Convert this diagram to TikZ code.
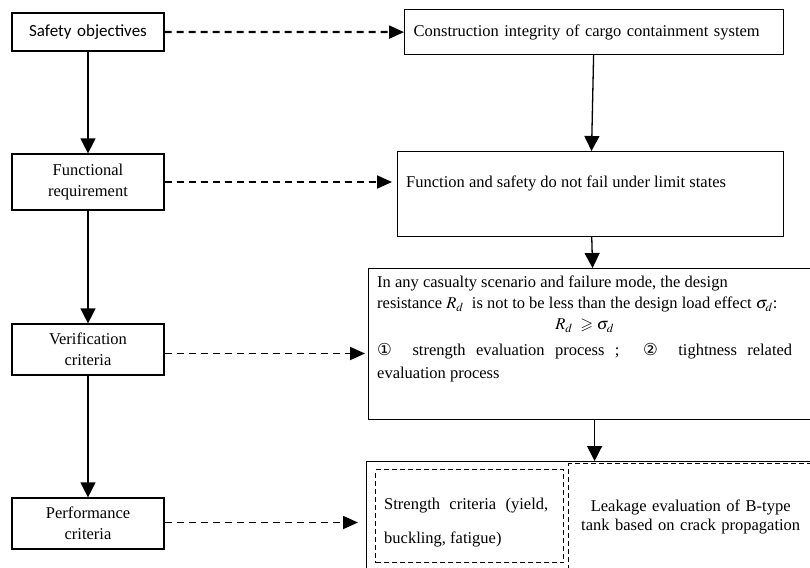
\documentclass[tikz,border=0pt]{standalone}
\usepackage{amssymb}
\usepackage{mathptmx}
\usepackage{fontspec}
\setmainfont{Liberation Serif}
\newfontfamily\timesfont{Liberation Serif}
\newfontfamily\calibri{Carlito}
\newfontfamily\circfont{DejaVu Sans}
\usetikzlibrary{positioning}
\usetikzlibrary{arrows.meta}
\tikzset{
  box/.style={draw=black,line width=1.2pt,rectangle,inner sep=0pt},
  dbox/.style={box,line width=1.4pt,dash pattern=on 5pt off 3pt},
  leftbox/.style={box,minimum width=152pt,text width=140pt,align=center,font=\timesfont\fontsize{16.5}{21}\selectfont},
  flow/.style={line width=1.3pt,-{Triangle[length=15pt,width=15pt]}},
  link/.style={line width=1.8pt,dash pattern=on 7pt off 5pt,-{Triangle[length=15pt,width=13pt]}},
  body/.style={inner sep=0pt,font=\timesfont\fontsize{16.5}{21}\selectfont}
}

\begin{document}
\begin{tikzpicture}[x=1pt,y=-1pt]
  \useasboundingbox (0,0) rectangle (810,567);
  \clip (0,0) rectangle (810,567);
  % left column
  \node[leftbox,minimum height=38pt,font=\calibri\fontsize{17}{20}\selectfont] (so) at (88,32) {Safety objectives};
  \node[leftbox,minimum height=56pt] (fr) at (88,182) {Functional\\requirement};
  \node[leftbox,minimum height=51pt] (vc) at (88,349.5) {Verification\\criteria};
  \node[leftbox,minimum height=51pt] (pc) at (88,523.5) {Performance\\criteria};
  % right column
  \node[box,anchor=north west,minimum width=379pt,minimum height=45pt,text width=361pt,
        align=left,inner xsep=9pt,font=\timesfont\fontsize{16.5}{21}\selectfont] (cis) at (404,9)
        {Construction integrity of cargo containment system};
  \node[box,anchor=north west,minimum width=386pt,minimum height=85pt] (fs) at (397,151) {};
  \node[body,anchor=west] (fstext) at (406,183) {Function and safety do not fail under limit states};
  \node[box,anchor=north west,minimum width=452pt,minimum height=151pt] (vb) at (368,268) {};
  \node[body,anchor=north west,text width=415pt,align=justify] (vbtext) at (377,276) {%
    In any casualty scenario and failure mode, the design\newline
    resistance $R_d$\ \ is not to be less than the design load effect $\sigma_d$:\par
    {\centering $R_d\ \geqslant\sigma_d$\par}
    \vspace{3pt}
    {\fontsize{16.5}{23}\selectfont
    {\circfont ①}\ \ strength evaluation process ; \ {\circfont ②}\ \ tightness related\linebreak
    evaluation process\par}};
  \node[box,anchor=north west,minimum width=456pt,minimum height=140pt] (pb) at (366,461) {};
  \node[dbox,anchor=north west,minimum width=188pt,minimum height=93pt] (sc) at (375,469) {};
  \node[body,anchor=north west,text width=164pt,align=justify,font=\timesfont\fontsize{16.5}{34}\selectfont] (sctext) at (384,498)
    {Strength criteria (yield,\linebreak buckling, fatigue)};
  \node[dbox,anchor=north west,minimum width=244pt,minimum height=107pt,text width=230pt,
        align=center,font=\timesfont\fontsize{16.5}{19.5}\selectfont] (le) at (568,463)
    {Leakage evaluation of B-type\\tank based on crack propagation};
  % connectors
  \draw[flow] (so) -- (fr);
  \draw[flow] (fr) -- (vc);
  \draw[flow] (vc) -- (pc);
  \draw[flow] (cis) -- (fs);
  \draw[flow] (fs) -- (vb);
  \draw[flow] (vb) -- (pb);
  \draw[link,line width=2.2pt] (so.east) -- (cis.west);
  \draw[link,shorten >=5pt] (fr.east) -- (fr.east -| fs.west);
  \draw[link,shorten >=3pt] ([yshift=-4pt]vc.east) -- ([yshift=-4pt]vc.east -| vb.west);
  \draw[link,shorten >=8pt] ([yshift=1pt]pc.east) -- ([yshift=1pt]pc.east -| pb.west);
\end{tikzpicture}
\end{document}
